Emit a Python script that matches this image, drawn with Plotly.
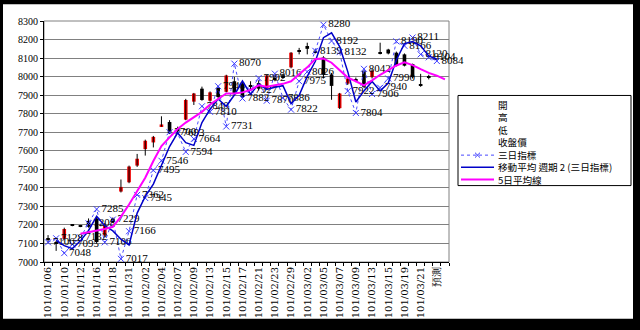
import plotly.graph_objects as go

# ---- data -------------------------------------------------------------
dates = [
    "101/01/06", "101/01/09", "101/01/10", "101/01/11", "101/01/12", "101/01/13",
    "101/01/16", "101/01/17", "101/01/18", "101/01/30", "101/01/31", "101/02/01",
    "101/02/02", "101/02/03", "101/02/04", "101/02/06", "101/02/07", "101/02/08",
    "101/02/09", "101/02/10", "101/02/13", "101/02/14", "101/02/15", "101/02/16",
    "101/02/17", "101/02/20", "101/02/21", "101/02/22", "101/02/23", "101/02/24",
    "101/02/29", "101/03/01", "101/03/02", "101/03/03", "101/03/05", "101/03/06",
    "101/03/07", "101/03/08", "101/03/09", "101/03/12", "101/03/13", "101/03/14",
    "101/03/15", "101/03/16", "101/03/19", "101/03/20", "101/03/21", "101/03/22",
    "預測", "預測2",
]
tick_labels = [d if i % 2 == 0 else "" for i, d in enumerate(dates)]
tick_labels[-1] = ""

opens = [7125, 7105, 7125, 7202, 7198, 7222, 7235, 7143, 7235, 7380, 7430, 7520,
         7609, 7645, 7733, 7755, 7722, 7768, 7865, 7935, 7870, 7940, 7918, 7975,
         7960, 7955, 7965, 7935, 7990, 8005, 8050, 8140, 8165, 8140, 8103, 8010,
         7830, 7962, 7985, 8030, 7997, 8130, 8146, 8129, 8120, 8068, 7955, 8000]
highs = [7145, 7112, 7185, 7205, 7200, 7235, 7245, 7210, 7240, 7445, 7520, 7583,
         7660, 7680, 7786, 7765, 7730, 7880, 7912, 7946, 7920, 7948, 8010, 7998,
         7970, 7975, 7980, 8010, 8000, 8015, 8132, 8155, 8183, 8150, 8110, 8020,
         7912, 8000, 7995, 8035, 8040, 8183, 8150, 8135, 8125, 8070, 8015, 8010]
lows = [7105, 7060, 7120, 7193, 7188, 7185, 7100, 7135, 7210, 7375, 7425, 7513,
        7574, 7618, 7730, 7690, 7700, 7765, 7847, 7870, 7865, 7883, 7915, 7900,
        7880, 7930, 7925, 7930, 7975, 7990, 8045, 8120, 8120, 8125, 7990, 7875,
        7825, 7955, 7970, 7940, 7990, 8120, 8120, 8055, 8055, 7990, 7945, 7985]
closes = [7120, 7098, 7178, 7198, 7193, 7190, 7108, 7199, 7215, 7405, 7515, 7557,
          7654, 7675, 7742, 7695, 7705, 7874, 7909, 7874, 7915, 7890, 8006, 7905,
          7890, 7945, 7935, 8006, 7985, 7995, 8129, 8135, 8150, 8130, 8010, 7950,
          7909, 7990, 7980, 7945, 8032, 8125, 8125, 8060, 8059, 7997, 7950, 7995]

# 三日指標
indicator = [7106, 7128, 7048, 7095, 7132, 7208, 7285, 7106, 7229, 7017, 7166, 7362,
             7345, 7495, 7546, 7700, 7693, 7594, 7664, 7840, 7810, 7948, 7731, 8070,
             7882, 7927, 7992, 7870, 8016, 7886, 7822, 7975, 8026, 8139, 8280, 8192,
             8132, 7922, 7804, 8042, 7906, 7940, 7990, 8190, 8166, 8211, 8120, 8104,
             8084, None]

# 移動平均 週期 2 (三日指標)
indicator_ma2 = [None, 7117, 7088, 7072, 7114, 7170, 7247, 7196, 7168, 7123, 7092, 7264,
                 7354, 7420, 7521, 7623, 7697, 7644, 7629, 7752, 7825, 7879, 7840, 7901,
                 7976, 7905, 7960, 7931, 7943, 7951, 7854, 7899, 8001, 8083, 8210, 8236,
                 8162, 8027, 7863, 7923, 7974, 7923, 7965, 8090, 8178, 8189, 8166, 8112,
                 8094, None]

# 5日平均線
ma5 = [None, None, None, None, 7152, 7160, 7169, 7178, 7190, 7245, 7310, 7380,
       7455, 7545, 7625, 7672, 7717, 7752, 7783, 7810, 7850, 7880, 7909, 7909,
       7915, 7928, 7953, 7946, 7952, 7961, 7975, 8010, 8050, 8095, 8097, 8075,
       8035, 7995, 7975, 7953, 7980, 8010, 8035, 8060, 8077, 8062, 8040, 8020,
       8005, 7985]

legend_names = ["開", "高", "低", "收盤價", "三日指標", "移動平均 週期 2 (三日指標)", "5日平均線"]

# ---- layout constants -------------------------------------------------
W, H = 640, 330
ML, MR, MT, MB = 44, 191, 21, 63
PW, PH = W - ML - MR, H - MT - MB


def px_x(p):
    return (p - ML) / PW


def px_y(p):
    return (H - MB - p) / PH


RED = "#ee0000"
DOT_BLUE = "#4a4aff"
MA_BLUE = "#0000c8"
MAGENTA = "#ff00ff"
SERIF = "Liberation Serif"
CJK = "Noto Sans CJK TC"

fig = go.Figure()

# high-low lines
n = len(opens)
cx = dates[:n]
wick_x, wick_y = [], []
for d, h, l in zip(cx, highs, lows):
    wick_x += [d, d, None]
    wick_y += [l, h, None]
fig.add_trace(go.Scatter(x=wick_x, y=wick_y, mode="lines",
                         line=dict(color="black", width=1),
                         showlegend=False, hoverinfo="skip"))

# up / down bodies
min_body = 6
up_base = [min(o, c) if c >= o else None for o, c in zip(opens, closes)]
up_h = [max(c - o, min_body) if c >= o else None for o, c in zip(opens, closes)]
dn_base = [c if c < o else None for o, c in zip(opens, closes)]
dn_h = [max(o - c, min_body) if c < o else None for o, c in zip(opens, closes)]
fig.add_trace(go.Bar(x=cx, y=up_h, base=up_base, width=0.45,
                     marker=dict(color=RED, line=dict(width=0)),
                     showlegend=False, hoverinfo="skip"))
fig.add_trace(go.Bar(x=cx, y=dn_h, base=dn_base, width=0.45,
                     marker=dict(color="black", line=dict(width=0)),
                     showlegend=False, hoverinfo="skip"))

# 三日指標
fig.add_trace(go.Scatter(
    x=dates, y=indicator, name=legend_names[4], mode="lines+markers+text",
    line=dict(color=DOT_BLUE, width=1, dash="dot"),
    marker=dict(symbol="x-thin", size=6, line=dict(color="#3a3aff", width=1)),
    text=[str(v) if v is not None else "" for v in indicator],
    textposition="middle right",
    textfont=dict(family=SERIF, size=11, color="black"),
    cliponaxis=False, showlegend=False,
))

# moving average of the indicator
fig.add_trace(go.Scatter(
    x=dates, y=indicator_ma2, name=legend_names[5], mode="lines",
    line=dict(color=MA_BLUE, width=1.5), showlegend=False,
))

# 5-day average
fig.add_trace(go.Scatter(
    x=dates, y=ma5, name=legend_names[6], mode="lines",
    line=dict(color=MAGENTA, width=2), showlegend=False,
))

# ---- legend box (compact rows) ---------------------------------------
LG_X0, LG_X1, LG_Y0, LG_Y1 = 458, 631, 97, 189
LEG_FS = 9.6
ROW_STEP = LEG_FS * 1.3          # plotly line height for multi-line text
ROW0 = 108
SYM_X0, SYM_X1, TXT_X = 461, 494, 497
rows_mid = ROW0 + ROW_STEP * (len(legend_names) - 1) / 2

shapes = [
    # white page inside the black frame
    dict(type="rect", xref="paper", yref="paper",
         x0=px_x(3), x1=px_x(633), y0=px_y(325), y1=px_y(4),
         fillcolor="white", line=dict(width=0), layer="below"),
    # plot-area border
    dict(type="rect", xref="paper", yref="paper", x0=0, x1=1, y0=0, y1=1,
         line=dict(color="#808080", width=1), layer="below"),
    # legend frame
    dict(type="rect", xref="paper", yref="paper",
         x0=px_x(LG_X0), x1=px_x(LG_X1), y0=px_y(LG_Y1), y1=px_y(LG_Y0),
         fillcolor="white", line=dict(color="black", width=1), layer="above"),
]
annotations = [dict(
    xref="paper", yref="paper", x=px_x(TXT_X), y=px_y(rows_mid),
    xanchor="left", yanchor="middle", align="left", showarrow=False,
    borderpad=0, text="<br>".join(legend_names),
    font=dict(family=CJK, size=LEG_FS, color="black"),
)]

sym_styles = {4: dict(color=DOT_BLUE, width=1, dash="dot"),
              5: dict(color=MA_BLUE, width=1.5),
              6: dict(color=MAGENTA, width=2)}
for i, st in sym_styles.items():
    ry = ROW0 + i * ROW_STEP
    shapes.append(dict(type="line", xref="paper", yref="paper",
                       x0=px_x(SYM_X0), x1=px_x(SYM_X1), y0=px_y(ry), y1=px_y(ry),
                       line=st, layer="above"))
# x marker in the 三日指標 key
mx, my, r = (SYM_X0 + SYM_X1) / 2, ROW0 + 4 * ROW_STEP, 2.5
for dy in (-r, r):
    shapes.append(dict(type="line", xref="paper", yref="paper",
                       x0=px_x(mx - r), x1=px_x(mx + r), y0=px_y(my - dy), y1=px_y(my + dy),
                       line=dict(color="#3a3aff", width=1), layer="above"))

fig.update_layout(
    width=W, height=H, autosize=False,
    margin=dict(l=ML, r=MR, t=MT, b=MB, pad=0),
    paper_bgcolor="black", plot_bgcolor="white",
    barmode="overlay", showlegend=False,
    font=dict(family=SERIF, size=10, color="black"),
    shapes=shapes, annotations=annotations,
)

fig.update_xaxes(
    type="category", categoryorder="array", categoryarray=dates,
    range=[-0.5, len(dates) - 0.5],
    tickvals=dates, ticktext=tick_labels, tickson="boundaries",
    ticks="outside", ticklen=3, tickcolor="black", tickangle=-90,
    tickfont=dict(family="DejaVu Serif", size=10, color="black"),
    showline=True, linecolor="black", linewidth=1,
    showgrid=False, zeroline=False, fixedrange=True,
)
fig.update_yaxes(
    range=[7000, 8300], dtick=100, tick0=7000,
    ticks="outside", ticklen=3, tickcolor="black",
    tickfont=dict(family=SERIF, size=10, color="black"),
    showline=True, linecolor="black", linewidth=1,
    gridcolor="#808080", gridwidth=1, zeroline=False, fixedrange=True,
)

fig.write_html("out.html")
